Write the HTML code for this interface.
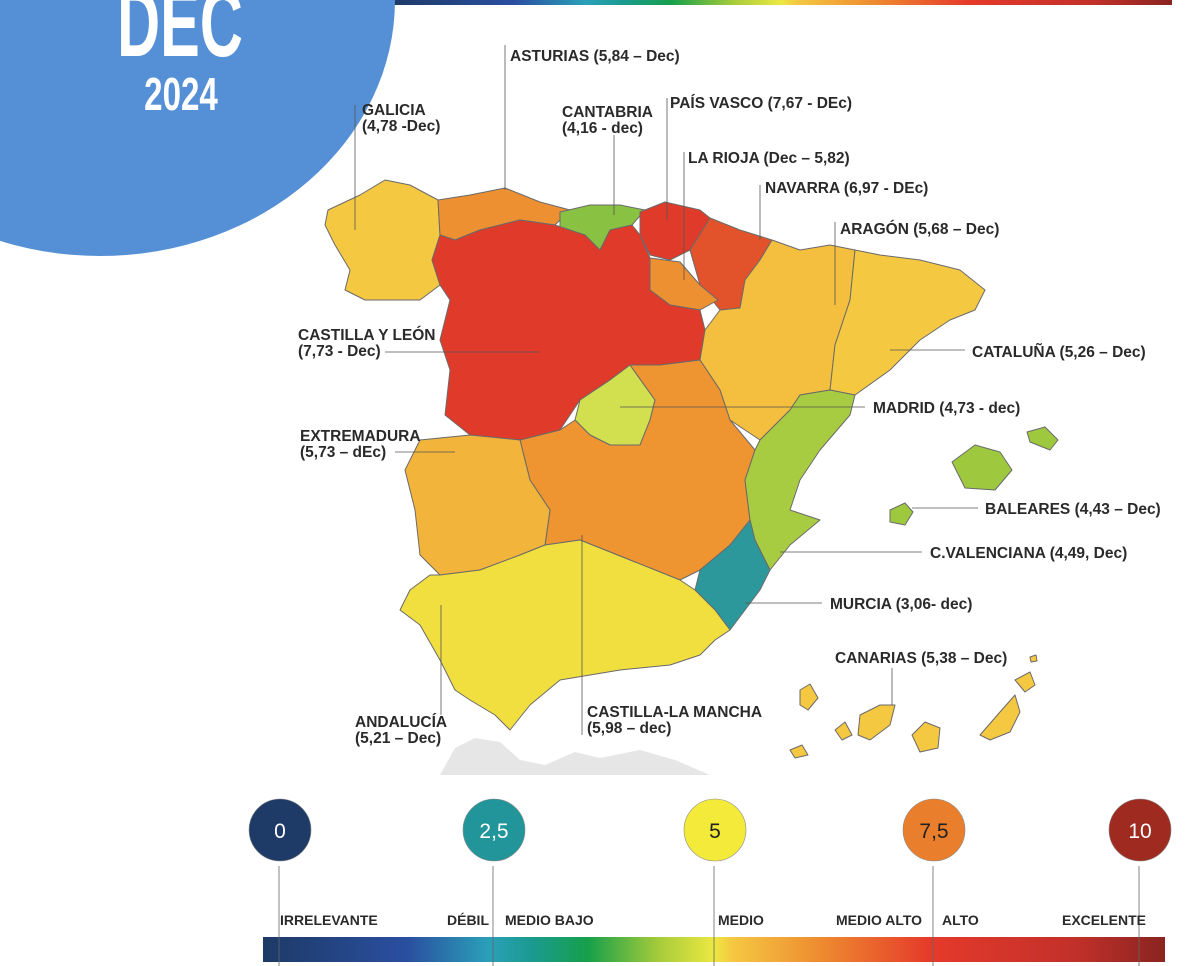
<!DOCTYPE html>
<html><head><meta charset="utf-8"><style>
html,body{margin:0;padding:0;background:#fff}
svg{display:block}
.lb{font-family:"Liberation Sans",sans-serif;font-weight:bold;font-size:15.5px;fill:#2a2a2a}
.ld{stroke:#555;stroke-width:0.8;fill:none}
.rg{stroke:#6a6a6a;stroke-width:1;stroke-linejoin:round}
.lg{font-family:"Liberation Sans",sans-serif;font-weight:bold;font-size:14px;fill:#2a2a2a}
</style></head><body>
<svg id="map" width="1200" height="966" viewBox="0 0 1200 966">
<defs>
<linearGradient id="bar" x1="0" x2="1" y1="0" y2="0">
<stop offset="0" stop-color="#1d3a66"/><stop offset="0.16" stop-color="#2a4fa0"/><stop offset="0.25" stop-color="#2aa0b8"/>
<stop offset="0.3" stop-color="#1a9a8e"/><stop offset="0.36" stop-color="#16a04a"/><stop offset="0.44" stop-color="#a8cc3a"/><stop offset="0.5" stop-color="#ece842"/>
<stop offset="0.52" stop-color="#f5c842"/><stop offset="0.62" stop-color="#ee8a30"/><stop offset="0.74" stop-color="#e53a2a"/>
<stop offset="0.9" stop-color="#c2302a"/><stop offset="1" stop-color="#8a2420"/>
</linearGradient>
</defs>
<rect x="390" y="0" width="782" height="5" fill="url(#bar)"/>
<ellipse cx="100" cy="0" rx="295" ry="256" fill="#5590d6"/>
<text transform="translate(180,56) scale(0.62,1)" text-anchor="middle" font-family="Liberation Sans,sans-serif" font-weight="bold" font-size="96" fill="#fff">DEC</text>
<text transform="translate(181,110) scale(0.72,1)" text-anchor="middle" font-family="Liberation Sans,sans-serif" font-weight="bold" font-size="46" fill="#fff">2024</text>
<path d="M440,775 L455,748 L475,738 L500,742 L520,760 L545,765 L575,752 L600,758 L640,750 L675,760 L710,775 Z" fill="#e6e6e6"/>
<g id="regions"></g>
<g id="labels"></g>
<g id="legend"></g>
</svg>
<script>
const regionNames=["Galicia","Asturias","Cantabria","País Vasco","Navarra","La Rioja","Castilla y León","Aragón","Cataluña","Madrid","Castilla-La Mancha","C.Valenciana","Murcia","Extremadura","Andalucía","Baleares","Canarias"];
const regionValues=[4.78,5.84,4.16,7.67,6.97,5.82,7.73,5.68,5.26,4.73,5.98,4.49,3.06,5.73,5.21,4.43,5.38];
const scaleVals=[3.0,4.2,4.45,4.74,4.77,5.0,5.2,5.24,5.4,5.7,5.76,5.82,6.0,7.0,7.7];
const scaleCols=["#2796a0","#8cc43f","#a0c93f","#d4e050","#f5c842","#f5cf42","#f0e640","#f5c842","#f5c842","#f4bd3e","#f1ac38","#ec9032","#ee9430","#e3512b","#e03a2a"];
const shapes=[
["M328,210 360,195 385,180 410,185 438,200 440,235 432,260 440,285 420,300 390,300 365,300 345,290 350,270 335,245 325,225Z"],
["M438,200 470,195 505,188 540,202 570,210 555,225 520,220 480,230 455,240 440,235Z"],
["M560,212 590,205 620,205 645,210 632,225 610,230 600,250 585,235 560,230Z"],
["M640,212 665,202 700,210 710,218 690,250 670,260 650,255 640,235Z"],
["M710,218 740,230 772,240 760,260 745,280 740,308 720,310 700,285 690,250Z"],
["M650,258 680,262 700,285 718,300 700,310 670,305 650,290Z"],
["M440,235 455,240 480,230 520,220 555,225 585,235 600,250 610,230 632,225 640,235 650,258 650,290 670,305 700,310 705,330 700,360 660,365 630,365 610,380 580,400 560,430 520,440 470,435 445,415 450,370 440,340 450,300 440,285 432,260Z"],
["M772,240 800,250 830,245 855,250 850,300 835,345 830,390 800,395 790,410 760,440 730,420 720,390 700,360 705,330 720,310 740,308 745,280 760,260Z"],
["M855,250 880,255 920,260 960,270 985,290 975,310 950,320 920,340 890,370 855,395 830,390 835,345 850,300Z"],
["M610,380 630,365 655,400 650,420 640,445 610,445 590,435 575,420 580,400Z"],
["M630,365 660,365 700,360 720,390 730,420 755,450 745,480 750,520 730,545 700,570 680,580 630,560 580,540 545,545 550,510 530,480 520,440 560,430 575,420 590,435 610,445 640,445 650,420 655,400Z"],
["M830,390 855,395 850,415 820,450 800,480 790,510 820,520 790,545 770,570 755,540 750,520 745,480 755,450 760,440 790,410 800,395Z"],
["M700,570 730,545 750,520 755,540 770,570 760,590 730,630 715,610 695,590Z"],
["M470,435 520,440 530,480 550,510 545,545 520,555 480,570 440,575 420,555 415,510 405,470 420,440Z"],
["M440,575 480,570 520,555 545,545 580,540 630,560 680,580 695,590 715,610 730,630 715,640 700,655 670,665 620,670 560,680 530,705 510,730 495,715 470,700 455,690 440,660 420,625 400,610 410,590 430,575Z"],
["M952,462 975,445 1000,452 1012,470 995,490 965,488Z","M1027,432 1045,427 1058,440 1050,450 1030,442Z","M890,510 905,503 913,512 905,525 890,522Z"],
["M800,690 810,684 818,698 808,710 800,705Z","M835,730 845,722 852,735 842,740Z","M860,715 880,705 895,705 890,725 870,740 858,735Z","M912,735 925,722 940,728 938,748 920,752Z","M980,735 1000,712 1015,695 1020,712 1010,732 990,740Z","M1015,680 1030,672 1035,685 1025,692Z","M790,750 802,745 808,755 795,758Z","M1030,657 1036,655 1037,661 1031,662Z"]
];
const labels=[
["GALICIA","(4,78 -Dec)",362,115,"M355,105 L355,230"],
["ASTURIAS (5,84 – Dec)",null,510,61,"M505,45 L505,190"],
["CANTABRIA","(4,16 - dec)",562,117,"M614,135 L614,215"],
["PAÍS VASCO (7,67 - DEc)",null,670,108,"M667,98 L667,220"],
["NAVARRA (6,97 - DEc)",null,765,193,"M760,185 L760,240"],
["LA RIOJA (Dec – 5,82)",null,688,163,"M684,152 L684,280"],
["CASTILLA Y LEÓN","(7,73 - Dec)",298,340,"M385,352 L540,352"],
["ARAGÓN (5,68 – Dec)",null,840,234,"M835,222 L835,305"],
["CATALUÑA (5,26 – Dec)",null,972,357,"M890,350 L965,350"],
["MADRID (4,73 - dec)",null,873,413,"M620,407 L865,407"],
["CASTILLA-LA MANCHA","(5,98 – dec)",587,717,"M582,535 L582,735"],
["C.VALENCIANA (4,49, Dec)",null,930,558,"M780,552 L922,552"],
["MURCIA (3,06- dec)",null,830,609,"M745,603 L822,603"],
["EXTREMADURA","(5,73 – dEc)",300,441,"M395,452 L455,452"],
["ANDALUCÍA","(5,21 – Dec)",355,727,"M441,605 L441,715"],
["BALEARES (4,43 – Dec)",null,985,514,"M912,508 L978,508"],
["CANARIAS (5,38 – Dec)",null,835,663,"M892,668 L892,705"]
];
const legendVals=["0","2,5","5","7,5","10"];
const legendCols=["#1e3a66","#22959a","#f3ea3a","#e97f2c","#9e2a20"];
const legendText=["#fff","#fff","#222","#222","#fff"];
const legendCats=[["IRRELEVANTE",280],["DÉBIL",447],["MEDIO BAJO",505],["MEDIO",718],["MEDIO ALTO",836],["ALTO",942],["EXCELENTE",1062]];

function colorScale(v){
  if(v<=scaleVals[0])return scaleCols[0];
  for(let i=1;i<scaleVals.length;i++){
    if(v<=scaleVals[i]){
      const t=(v-scaleVals[i-1])/(scaleVals[i]-scaleVals[i-1]);
      return mix(scaleCols[i-1],scaleCols[i],t);
    }
  }
  return scaleCols[scaleCols.length-1];
}
function mix(a,b,t){
  const pa=[1,3,5].map(i=>parseInt(a.substr(i,2),16)),pb=[1,3,5].map(i=>parseInt(b.substr(i,2),16));
  return "rgb("+pa.map((x,i)=>Math.round(x+(pb[i]-x)*t)).join(",")+")";
}
const NS="http://www.w3.org/2000/svg";
const gR=document.getElementById("regions"),gL=document.getElementById("labels"),gG=document.getElementById("legend");
function slug(s){return s.toLowerCase().normalize("NFD").replace(/[\u0300-\u036f]/g,"").replace(/[^a-z]+/g,"-").replace(/-$/,"");}
regionNames.forEach((n,i)=>{
  shapes[i].forEach(d=>{
    const p=document.createElementNS(NS,"path");
    p.setAttribute("d",d);p.setAttribute("class","rg");
    p.setAttribute("fill",colorScale(regionValues[i]));
    
    
    gR.appendChild(p);
  });
});
labels.forEach((l,i)=>{
  const ln=document.createElementNS(NS,"path");
  ln.setAttribute("d",l[4]);ln.setAttribute("class","ld");
  
  
  gL.appendChild(ln);
  const t=document.createElementNS(NS,"text");
  t.setAttribute("x",l[2]);t.setAttribute("y",l[3]);t.setAttribute("class","lb");
  t.textContent=l[0];
  
  
  gL.appendChild(t);
  if(l[1]){
    const t2=document.createElementNS(NS,"text");
    t2.setAttribute("x",l[2]);t2.setAttribute("y",l[3]+16);t2.setAttribute("class","lb");
    t2.textContent=l[1];
    
    
    gL.appendChild(t2);
  }
});
const bar=document.createElementNS(NS,"rect");
bar.setAttribute("x",263);bar.setAttribute("y",937);bar.setAttribute("width",902);bar.setAttribute("height",25);bar.setAttribute("fill","url(#bar)");


gG.appendChild(bar);
const cx=[280,494,715,934,1140];
legendVals.forEach((v,i)=>{
  const c=document.createElementNS(NS,"circle");
  c.setAttribute("cx",cx[i]);c.setAttribute("cy",830);c.setAttribute("r",31);c.setAttribute("fill",legendCols[i]);c.setAttribute("stroke","#888");c.setAttribute("stroke-width","0.6");
  
  
  gG.appendChild(c);
  const t=document.createElementNS(NS,"text");
  t.setAttribute("x",cx[i]);t.setAttribute("y",838);t.setAttribute("text-anchor","middle");
  t.setAttribute("font-family","Liberation Sans,sans-serif");t.setAttribute("font-size","21");t.setAttribute("fill",legendText[i]);
  t.textContent=v;
  
  
  gG.appendChild(t);
  const ln=document.createElementNS(NS,"line");
  ln.setAttribute("x1",cx[i]-1);ln.setAttribute("x2",cx[i]-1);ln.setAttribute("y1",866);ln.setAttribute("y2",966);ln.setAttribute("stroke","#666");ln.setAttribute("stroke-width","0.8");
  
  
  gG.appendChild(ln);
});
legendCats.forEach(c=>{
  const t=document.createElementNS(NS,"text");
  t.setAttribute("x",c[1]);t.setAttribute("y",925);t.setAttribute("class","lg");
  t.textContent=c[0];
  
  
  gG.appendChild(t);
});
</script>
</body></html>
